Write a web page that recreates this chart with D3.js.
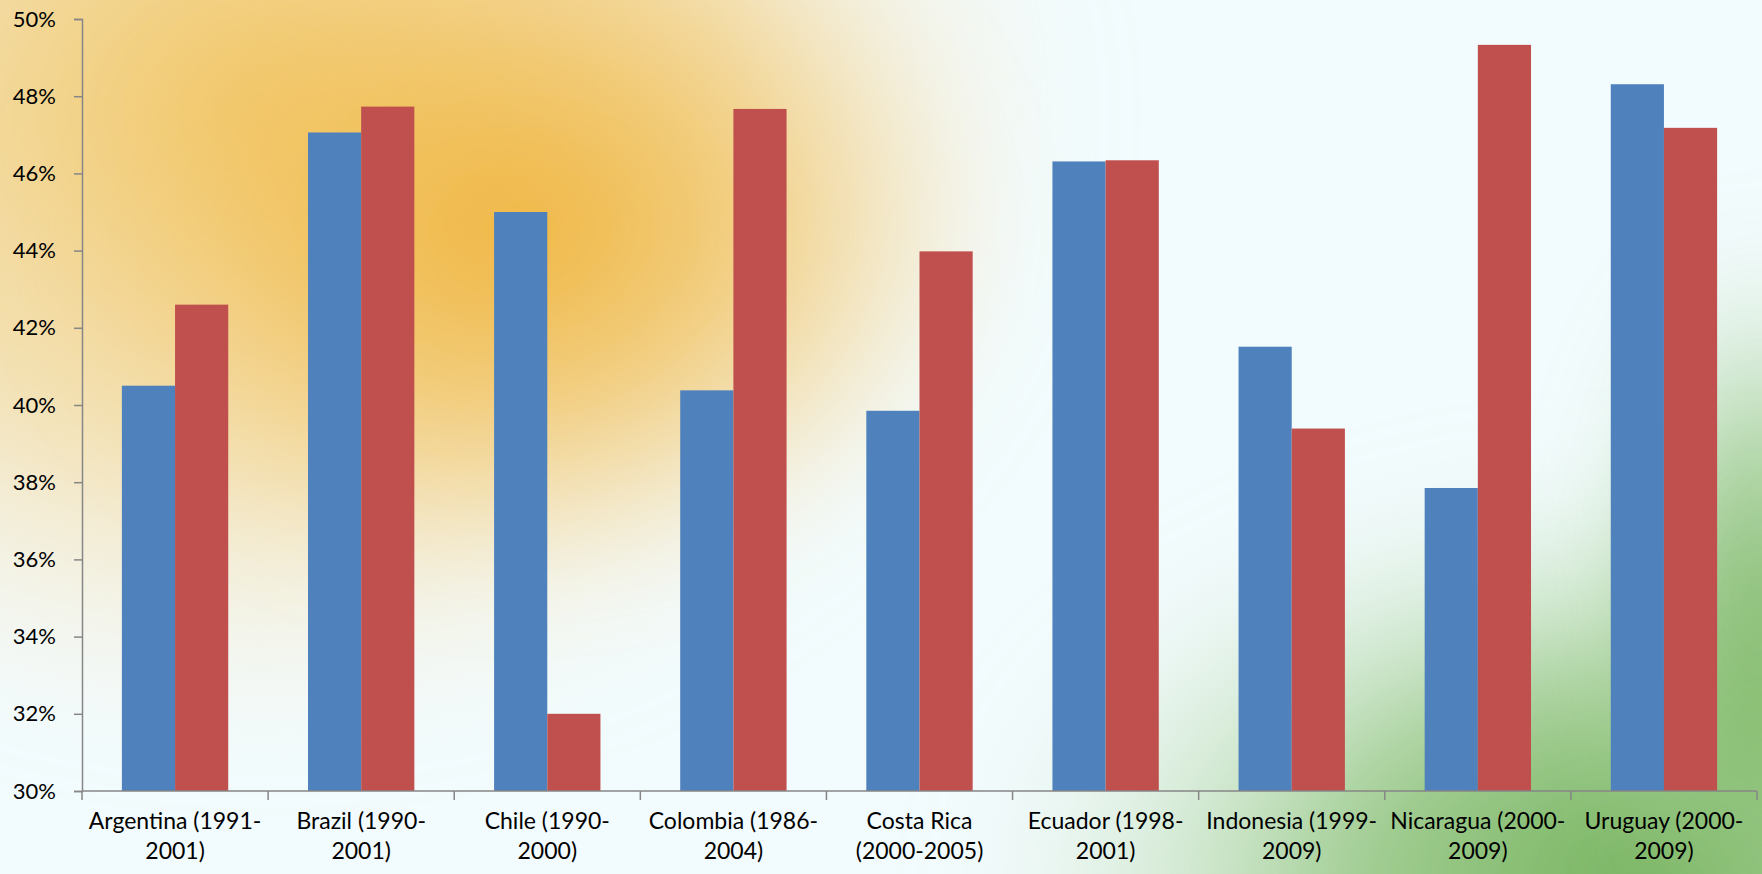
<!DOCTYPE html>
<html>
<head>
<meta charset="utf-8">
<script src="https://cdn.jsdelivr.net/npm/d3@7"></script>
<style>
  body { margin: 0; overflow: hidden; }
  svg { display: block; }
  svg text { font-family: Lato, "Open Sans", sans-serif; fill: #000; }
</style>
</head>
<body>
<svg></svg>
<script>
const width = 1762;
const height = 874;
const margin = {top: 19, right: 5, bottom: 83, left: 82};

const categories = ['Argentina', 'Brazil', 'Chile', 'Colombia', 'Costa Rica',
  'Ecuador', 'Indonesia', 'Nicaragua', 'Uruguay'];
const tickLabels = [
  ['Argentina (1991-', '2001)'],
  ['Brazil (1990-', '2001)'],
  ['Chile (1990-', '2000)'],
  ['Colombia (1986-', '2004)'],
  ['Costa Rica', '(2000-2005)'],
  ['Ecuador (1998-', '2001)'],
  ['Indonesia (1999-', '2009)'],
  ['Nicaragua (2000-', '2009)'],
  ['Uruguay (2000-', '2009)']
];
const seriesA = [0.405, 0.4706, 0.450, 0.4038, 0.3985, 0.4631, 0.4151, 0.3785, 0.4831];
const seriesB = [0.426, 0.4773, 0.320, 0.4767, 0.4398, 0.4634, 0.3939, 0.4933, 0.4718];
const yTicks = [0.30, 0.32, 0.34, 0.36, 0.38, 0.40, 0.42, 0.44, 0.46, 0.48, 0.50];

const svg = d3.select('svg')
  .attr('width', width)
  .attr('height', height);

// background wash
const defs = svg.append('defs');
const blur = defs.append('filter').attr('id', 'soft')
  .attr('x', '-50%').attr('y', '-50%').attr('width', '200%').attr('height', '200%');
blur.append('feGaussianBlur').attr('stdDeviation', 45);

const grad = (id, stops) => {
  const g = defs.append('radialGradient').attr('id', id);
  stops.forEach(s => g.append('stop')
    .attr('offset', s[0]).attr('stop-color', s[1]).attr('stop-opacity', s[2]));
};
grad('pale', [[0, '#f1bf50', 0.9], [0.55, '#f4d28a', 0.6], [1, '#f8ead0', 0]]);
grad('orange', [[0, '#efae2c', 0.85], [0.5, '#f1bd52', 0.55], [1, '#f5d38c', 0]]);
grad('green', [[0, '#5fa541', 0.9], [0.45, '#80ba66', 0.7], [0.75, '#b5d8a8', 0.35], [1, '#d8ecd5', 0]]);

const bg = svg.append('g');
bg.append('rect').attr('width', width).attr('height', height).attr('fill', '#f2fbfd');
bg.append('ellipse').attr('cx', 260).attr('cy', 110).attr('rx', 820).attr('ry', 640)
  .attr('fill', 'url(#pale)').attr('filter', 'url(#soft)');
bg.append('ellipse').attr('cx', 520).attr('cy', 230).attr('rx', 480).attr('ry', 360)
  .attr('fill', 'url(#orange)').attr('filter', 'url(#soft)');
bg.append('ellipse').attr('cx', 1660).attr('cy', 880).attr('rx', 700).attr('ry', 420)
  .attr('fill', 'url(#green)').attr('filter', 'url(#soft)');
bg.append('ellipse').attr('cx', 1760).attr('cy', 600).attr('rx', 180).attr('ry', 380)
  .attr('fill', 'url(#green)').attr('opacity', 0.8).attr('filter', 'url(#soft)');

const innerWidth = width - margin.left - margin.right;
const innerHeight = height - margin.top - margin.bottom;

const xScale = d3.scaleBand()
  .domain(categories)
  .range([0, innerWidth]);

// two bars side by side, gap between groups 150% of a bar
const bw = xScale.bandwidth();
const xSub = d3.scaleBand()
  .domain(['a', 'b'])
  .range([bw * 0.75 / 3.5, bw - bw * 0.75 / 3.5]);

const yScale = d3.scaleLinear()
  .domain([0.30, 0.50])
  .range([innerHeight, 0]);

const g = svg.append('g')
  .attr('transform', `translate(${margin.left}, ${margin.top})`);

const data = categories.map((c, i) => ({cat: c, a: seriesA[i], b: seriesB[i]}));

const groups = g.selectAll('.grp').data(data).enter().append('g')
  .attr('transform', d => `translate(${xScale(d.cat)}, 0)`);

groups.append('rect')
  .attr('x', xSub('a'))
  .attr('y', d => yScale(d.a))
  .attr('width', xSub.bandwidth())
  .attr('height', d => innerHeight - yScale(d.a))
  .attr('fill', '#4f81bd');

groups.append('rect')
  .attr('x', xSub('b'))
  .attr('y', d => yScale(d.b))
  .attr('width', xSub.bandwidth())
  .attr('height', d => innerHeight - yScale(d.b))
  .attr('fill', '#c0504d');

// y axis
const yAxis = g.append('g')
  .call(d3.axisLeft(yScale).tickValues(yTicks).tickFormat(d3.format('.0%')).tickSize(8).tickPadding(18));
yAxis.selectAll('text').style('font-size', '22px');
yAxis.selectAll('line, path').attr('stroke', '#868686').attr('stroke-width', 1.5);

// x axis with ticks between categories
const xAxis = g.append('g').attr('transform', `translate(0, ${innerHeight})`);
xAxis.append('line')
  .attr('x1', 0).attr('x2', innerWidth)
  .attr('stroke', '#868686').attr('stroke-width', 1.5);
xAxis.selectAll('.tk').data(d3.range(categories.length + 1)).enter().append('line')
  .attr('x1', i => i < categories.length ? xScale(categories[i]) : innerWidth)
  .attr('x2', i => i < categories.length ? xScale(categories[i]) : innerWidth)
  .attr('y1', 0).attr('y2', 9)
  .attr('stroke', '#868686').attr('stroke-width', 1.5);

const labels = xAxis.selectAll('.lbl').data(data).enter().append('text')
  .attr('text-anchor', 'middle')
  .style('font-size', '23px')
  .attr('transform', d => `translate(${xScale(d.cat) + bw / 2}, 38)`);
labels.selectAll('tspan').data((d, i) => tickLabels[i]).enter().append('tspan')
  .attr('x', 0)
  .attr('dy', (d, i) => i === 0 ? 0 : 30)
  .text(d => d);
</script>
</body>
</html>
